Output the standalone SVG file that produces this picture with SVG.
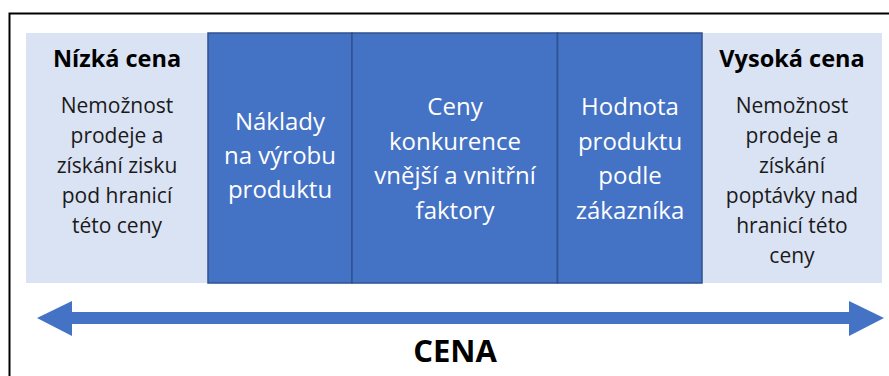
<svg xmlns="http://www.w3.org/2000/svg" width="889" height="376" viewBox="0 0 889 376">
<style>
.panel{fill:#dae3f3}
.box{fill:#4472c4;stroke:#2f528f;stroke-width:1.5}
.hd{font-family:"Open Sans","Liberation Sans",sans-serif;font-weight:bold;font-size:23.5px;fill:#000;text-anchor:middle}
.bd{font-family:"Open Sans","Liberation Sans",sans-serif;font-size:21px;fill:#1a1a1a;text-anchor:middle}
.wt{font-family:"Open Sans","Liberation Sans",sans-serif;font-size:24px;fill:#fff;text-anchor:middle}
.cena{font-family:"Open Sans","Liberation Sans",sans-serif;font-weight:bold;font-size:31px;fill:#000;text-anchor:middle}
</style>
<rect x="0" y="0" width="889" height="376" fill="#fff"/>
<path d="M9.5 376 V13.5 H889" fill="none" stroke="#000" stroke-width="2"/>
<g id="low">
<rect class="panel" x="26" y="33" width="182" height="250"/>
<text class="hd" x="117" y="67">Nízká cena</text>
<text class="bd" x="117" y="113">Nemožnost</text>
<text class="bd" x="117" y="143">prodeje a</text>
<text class="bd" x="117" y="173">získání zisku</text>
<text class="bd" x="117" y="203">pod hranicí</text>
<text class="bd" x="117" y="233">této ceny</text>
</g>
<g id="high">
<rect class="panel" x="702" y="33" width="180" height="250"/>
<text class="hd" x="792" y="67">Vysoká cena</text>
<text class="bd" x="792" y="113">Nemožnost</text>
<text class="bd" x="792" y="143">prodeje a</text>
<text class="bd" x="792" y="173">získání</text>
<text class="bd" x="792" y="203">poptávky nad</text>
<text class="bd" x="792" y="233">hranicí této</text>
<text class="bd" x="792" y="263">ceny</text>
</g>
<g id="naklady">
<rect class="box" x="208" y="33" width="144" height="250"/>
<text class="wt" x="280" y="130">Náklady</text>
<text class="wt" x="280" y="164">na výrobu</text>
<text class="wt" x="280" y="198">produktu</text>
</g>
<g id="konkurence">
<rect class="box" x="352" y="33" width="205.5" height="250"/>
<text class="wt" x="455" y="115">Ceny</text>
<text class="wt" x="455" y="149.5">konkurence</text>
<text class="wt" x="455" y="184">vnější a vnitřní</text>
<text class="wt" x="455" y="218.5">faktory</text>
</g>
<g id="hodnota">
<rect class="box" x="557.5" y="33" width="144.5" height="250"/>
<text class="wt" x="630" y="115">Hodnota</text>
<text class="wt" x="630" y="149.5">produktu</text>
<text class="wt" x="630" y="184">podle</text>
<text class="wt" x="630" y="218.5">zákazníka</text>
</g>
<g id="connectors">
<polygon points="37,318 72,301 72,312 849,312 849,301 884,318 849,336 849,324 72,324 72,336" fill="#4472c4"/>
</g>
<g id="label">
<text class="cena" x="455" y="362">CENA</text>
</g>
</svg>
